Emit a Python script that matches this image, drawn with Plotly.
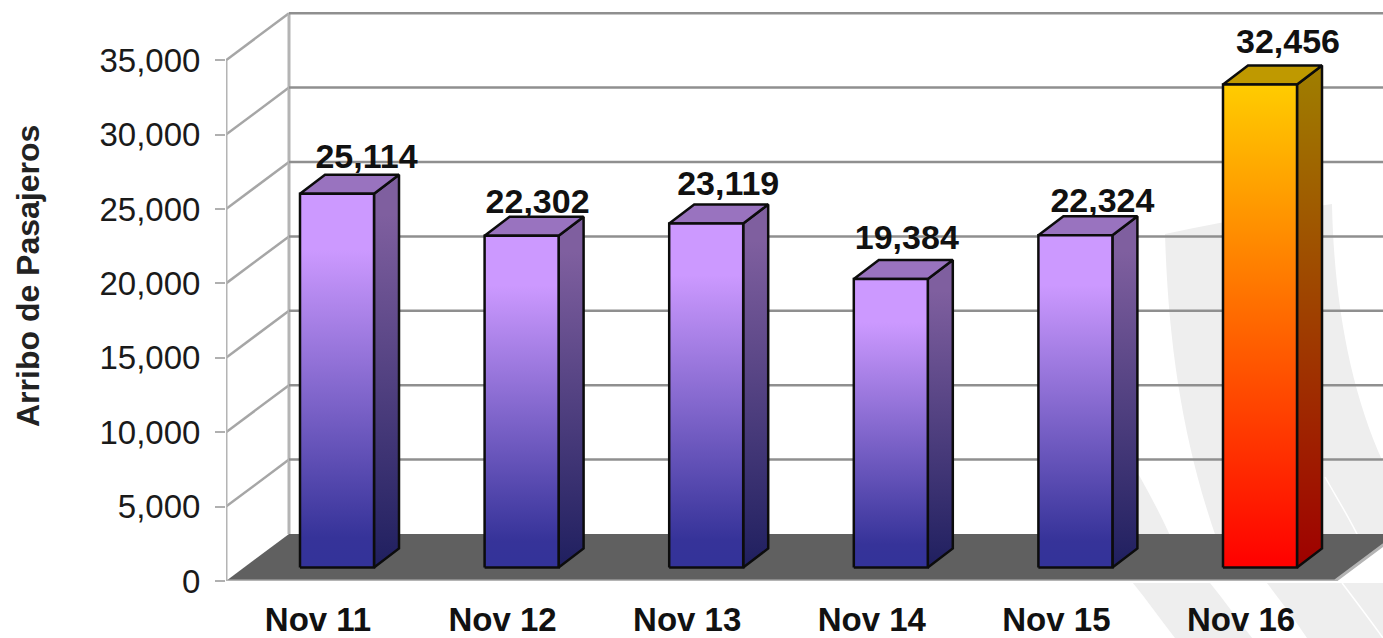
import plotly.graph_objects as go

categories = ["Nov 11", "Nov 12", "Nov 13", "Nov 14", "Nov 15", "Nov 16"]
passengers = [25114, 22302, 23119, 19384, 22324, 32456]
y_ticks = [0, 5000, 10000, 15000, 20000, 25000, 30000, 35000]

W, H = 1383, 638
LEFT, FLOOR = 226, 581      # where the front axes meet, in page pixels
CAT_PX = 184.6              # pixels between categories
UNIT_PX = 74.4 / 5000       # pixels per passenger
FIRST_TICK = 318            # pixel of first category label

px_x = 1 / CAT_PX
px_y = 1 / UNIT_PX
x_min = (LEFT - FIRST_TICK) * px_x
x_max = (W - FIRST_TICK) * px_x
y_max = FLOOR * px_y

# perspective offsets
wall_dx, wall_dy = 63 * px_x, 47 * px_y
bar_dx, bar_dy = 25 * px_x, 19 * px_y
bar_left, bar_w = -18 * px_x, 74 * px_x
bar_base = 13.5 * px_y


def paper(x, y):
    return (x - LEFT) / (W - LEFT), (FLOOR - y) / FLOOR


def swoosh(points):
    # points: M, then triples of cubic control points
    d = ""
    for i, p in enumerate(points):
        a, b = paper(*p)
        if i == 0:
            d += f"M {a:.4f} {b:.4f} "
        elif i % 3 == 1:
            d += f"C {a:.4f} {b:.4f} "
        else:
            d += f"{a:.4f} {b:.4f} "
    return d


gray = "#eeeeee"
shapes = []
# watermark behind the chart
main = swoosh([(1165, 234), (1220, 222), (1280, 212), (1332, 204),
               (1334, 300), (1350, 390), (1383, 462),
               (1383, 490), (1383, 510), (1383, 540),
               (1330, 540), (1280, 540), (1217, 540),
               (1182, 440), (1168, 340), (1165, 234)]) + "Z"
wedge = swoosh([(1120, 445), (1128, 460), (1135, 470), (1140, 477),
                (1150, 495), (1162, 517), (1172, 540),
                (1160, 540), (1140, 540), (1120, 540),
                (1120, 510), (1120, 480), (1120, 445)]) + "Z"
low_left = swoosh([(1133, 583), (1158, 583), (1184, 583), (1210, 583),
                   (1224, 600), (1238, 620), (1252, 638),
                   (1226, 638), (1200, 638), (1175, 638),
                   (1161, 620), (1147, 600), (1133, 583)]) + "Z"
low_band = swoosh([(1267, 583), (1310, 583), (1350, 583), (1383, 583),
                   (1383, 600), (1383, 620), (1383, 638),
                   (1360, 638), (1335, 638), (1307, 638),
                   (1295, 620), (1280, 600), (1267, 583)]) + "Z"
for d in [main, wedge, low_left, low_band]:
    shapes.append(dict(type="path", xref="paper", yref="paper", path=d,
                       fillcolor=gray, line=dict(width=0), layer="below"))
for pts in [[(1325, 477), (1335, 495), (1348, 515), (1360, 540)],
            [(1342, 583), (1355, 600), (1370, 620), (1383, 638)]]:
    shapes.append(dict(type="path", xref="paper", yref="paper", path=swoosh(pts),
                       line=dict(color="white", width=1.5), layer="below"))

fig = go.Figure()

# floor
floor_right = (1335 - FIRST_TICK) * px_x
fig.add_trace(go.Scatter(
    x=[x_min, x_min + wall_dx, floor_right + wall_dx, floor_right],
    y=[0, wall_dy, wall_dy, 0],
    fill="toself", fillcolor="#606060", mode="none", hoverinfo="skip"))
fig.add_trace(go.Scatter(
    x=[floor_right + wall_dx, floor_right, x_min], y=[wall_dy, 0, 0],
    mode="lines", line=dict(color="#b4b4b4", width=3), hoverinfo="skip"))

# walls: side diagonals + back horizontals
wall_x, wall_y, back_x, back_y = [], [], [], []
for v in y_ticks[1:]:
    wall_x += [x_min, x_min + wall_dx, None]
    wall_y += [v, v + wall_dy, None]
    back_x += [x_min + wall_dx, x_max, None]
    back_y += [v + wall_dy, v + wall_dy, None]
fig.add_trace(go.Scatter(x=wall_x, y=wall_y, mode="lines",
                         line=dict(color="#a6a6a6", width=2.5), hoverinfo="skip"))
# front axis stops at the top tick, back corner at the top of the wall
fig.add_trace(go.Scatter(x=[x_min, x_min, None, x_min + wall_dx, x_min + wall_dx],
                         y=[0, y_ticks[-1], None, wall_dy, y_ticks[-1] + wall_dy], mode="lines",
                         line=dict(color="#b4b4b4", width=3), cliponaxis=False, hoverinfo="skip"))
fig.add_trace(go.Scatter(x=back_x, y=back_y, mode="lines",
                         line=dict(color="#8f8f8f", width=2.5), hoverinfo="skip"))

purple = dict(front=[[0, "#333399"], [0.08, "#363399"], [0.85, "#CC99FF"], [1, "#CC99FF"]],
              side=[[0, "#1F1F5F"], [0.9, "#7F5F9F"], [1, "#7F5F9F"]], top="#9973BF")
gold = dict(front=[[0, "#FF0000"], [1, "#FFCC00"]],
            side=[[0, "#9F0000"], [1, "#9F7F00"]], top="#BF9900")
edge = dict(color="#0c0c0c", width=2.5)

for i, v in enumerate(passengers):
    c = gold if i == len(passengers) - 1 else purple
    x0 = i + bar_left
    x1 = x0 + bar_w
    y0 = bar_base
    y1 = bar_base + v
    fig.add_trace(go.Scatter(
        x=[x1, x1 + bar_dx, x1 + bar_dx, x1, x1], y=[y0, y0 + bar_dy, y1 + bar_dy, y1, y0],
        fill="toself", mode="lines", line=edge, hoverinfo="skip",
        fillgradient=dict(type="vertical", colorscale=c["side"])))
    fig.add_trace(go.Scatter(
        x=[x0, x1, x1 + bar_dx, x0 + bar_dx, x0], y=[y1, y1, y1 + bar_dy, y1 + bar_dy, y1],
        fill="toself", fillcolor=c["top"], mode="lines", line=edge, hoverinfo="skip"))
    fig.add_trace(go.Scatter(
        x=[x0, x1, x1, x0, x0], y=[y0, y0, y1, y1, y0],
        fill="toself", mode="lines", line=edge, hoverinfo="skip",
        fillgradient=dict(type="vertical", colorscale=c["front"])))

# labels sit at slightly different spots over each bar
lift = [17, 14, 20, 22, 15, 23]
shift = [48.5, 35, 41, 35, 46, 47]
fig.add_trace(go.Scatter(
    x=[i + shift[i] * px_x for i in range(len(passengers))],
    y=[bar_base + v + lift[i] * px_y for i, v in enumerate(passengers)],
    text=[f"{v:,}" for v in passengers],
    mode="text", textposition="top center", cliponaxis=False, hoverinfo="skip",
    textfont=dict(family="Liberation Sans", size=34, color="#111111", weight="bold")))

fig.update_layout(
    width=W, height=H, showlegend=False,
    plot_bgcolor="white", paper_bgcolor="white",
    margin=dict(l=LEFT, r=0, t=0, b=H - FLOOR, pad=0),
    shapes=shapes,
    annotations=[dict(
        text="<b>Arribo de Pasajeros</b>", textangle=-90, showarrow=False,
        xref="paper", yref="paper", x=paper(28, 276)[0], y=paper(28, 276)[1],
        xanchor="center", yanchor="middle",
        font=dict(family="Liberation Sans", size=32, color="#222222"))],
    xaxis=dict(range=[x_min, x_max], tickvals=list(range(len(categories))), ticktext=categories,
               automargin=False, showgrid=False, zeroline=False, showline=False,
               ticks="outside", ticklen=9, tickcolor="rgba(0,0,0,0)",
               tickfont=dict(family="Liberation Sans", size=33, color="#111111", weight="bold")),
    yaxis=dict(range=[0, y_max], tickvals=y_ticks, tickformat=",", automargin=False,
               showgrid=False, zeroline=False, showline=False,
               ticks="outside", ticklen=10, tickwidth=2, tickcolor="#b0b0b0", ticklabelstandoff=8,
               tickfont=dict(family="Liberation Sans", size=33, color="#1a1a1a")),
)

fig.write_html("out.html", config={"displayModeBar": False},
               post_script="document.body.style.margin='0';")
